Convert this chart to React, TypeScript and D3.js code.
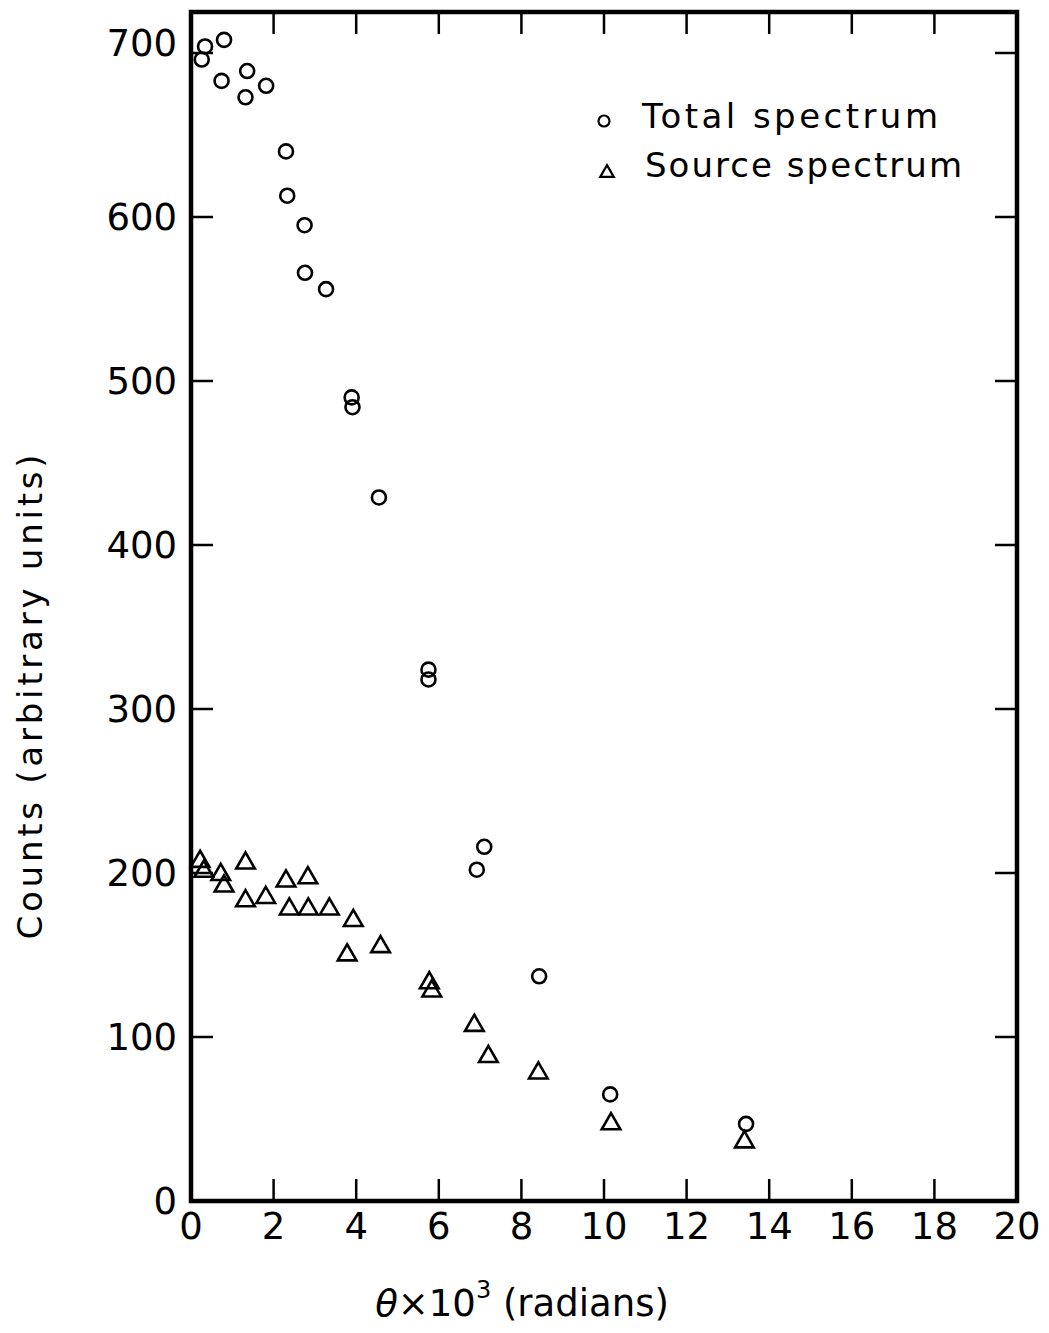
import React from "react";
import * as d3 from "d3";

// Total spectrum (circles): [theta x 10^3, counts]
const totalX = [0.8, 0.34, 0.26, 0.74, 1.36, 1.32, 1.82, 2.3, 2.33, 2.75, 2.76, 3.27, 3.89, 3.91, 4.55, 5.75, 5.75, 7.1, 6.92, 8.43, 10.15, 13.44];
const totalY = [708, 704, 696, 683, 689, 673, 680, 640, 613, 595, 566, 556, 490, 484, 429, 324, 318, 216, 202, 137, 65, 47];

// Source spectrum (triangles)
const sourceX = [0.22, 0.31, 0.72, 0.8, 1.32, 1.32, 1.81, 2.3, 2.83, 2.38, 2.84, 3.35, 3.93, 3.78, 4.59, 5.77, 5.83, 6.86, 7.2, 8.41, 10.17, 13.4];
const sourceY = [207, 201, 199, 192, 206, 183, 185, 195, 197, 178, 178, 178, 171, 150, 155, 133, 128, 107, 88, 78, 47, 36];

const xTicks = [0, 2, 4, 6, 8, 10, 12, 14, 16, 18, 20];
const yTicks = [0, 100, 200, 300, 400, 500, 600, 700];
const legendLabels = ["Total spectrum", "Source spectrum"];

const W = 1049;
const H = 1333;
const FONT = "'DejaVu Sans', sans-serif";

export default function App() {
  const x = d3.scaleLinear().domain([0, 20]).range([191, 1017]);
  const y = d3.scaleLinear().domain([0, 725]).range([1201, 12]);
  const tri = d3.symbol().type(d3.symbolTriangle).size(150)();
  const triSmall = d3.symbol().type(d3.symbolTriangle).size(80)();
  const tickLen = 22;
  const [x0, x1] = x.range();
  const [yb, yt] = y.range();

  return (
    <svg
      width={W}
      height={H}
      style={{ position: "absolute", left: 0, top: 0, background: "#fff" }}
      fontFamily={FONT}
    >
      <rect x={0} y={0} width={W} height={H} fill="#fff" />
      {/* frame */}
      <rect x={x0} y={yt} width={x1 - x0} height={yb - yt} fill="none" stroke="#000" strokeWidth={4.5} />
      {/* ticks */}
      {xTicks.slice(1, -1).map((t) => (
        <g key={"xt" + t}>
          <line x1={x(t)} x2={x(t)} y1={yb} y2={yb - tickLen} stroke="#000" strokeWidth={2.5} />
          <line x1={x(t)} x2={x(t)} y1={yt} y2={yt + tickLen} stroke="#000" strokeWidth={2.5} />
        </g>
      ))}
      {yTicks.slice(1).map((t) => (
        <g key={"yt" + t}>
          <line x1={x0} x2={x0 + tickLen} y1={y(t)} y2={y(t)} stroke="#000" strokeWidth={2.5} />
          <line x1={x1} x2={x1 - tickLen} y1={y(t)} y2={y(t)} stroke="#000" strokeWidth={2.5} />
        </g>
      ))}
      {/* tick labels */}
      {xTicks.map((t) => (
        <text key={"xl" + t} x={x(t)} y={1239} textAnchor="middle" fontSize={37}>
          {t}
        </text>
      ))}
      {yTicks.map((t) => (
        <text key={"yl" + t} x={177} y={y(t) + 13 - (t === 700 ? 10 : 0)} textAnchor="end" fontSize={37}>
          {t}
        </text>
      ))}
      {/* axis titles */}
      <text x={522} y={1316} textAnchor="middle" fontSize={37}>
        <tspan fontStyle="italic">θ</tspan>
        <tspan>×10</tspan>
        <tspan fontSize={24} dy={-18}>3</tspan>
        <tspan dy={18}> (radians)</tspan>
      </text>
      <text
        transform={`translate(42, 697) rotate(-90)`}
        textAnchor="middle"
        fontSize={34}
        textLength={485}
        lengthAdjust="spacing"
      >
        Counts (arbitrary units)
      </text>
      {/* data */}
      {totalX.map((v, i) => (
        <circle key={"c" + i} cx={x(v)} cy={y(totalY[i])} r={7} fill="none" stroke="#000" strokeWidth={2.6} />
      ))}
      {sourceX.map((v, i) => (
        <path
          key={"t" + i}
          d={tri}
          transform={`translate(${x(v)},${y(sourceY[i])})`}
          fill="none"
          stroke="#000"
          strokeWidth={2.6}
          strokeLinejoin="miter"
        />
      ))}
      {/* legend */}
      <circle cx={604} cy={121} r={5.5} fill="none" stroke="#000" strokeWidth={2.2} />
      <text x={642} y={128} fontSize={34} textLength={296} lengthAdjust="spacing">
        {legendLabels[0]}
      </text>
      <path d={triSmall} transform="translate(607,173)" fill="none" stroke="#000" strokeWidth={2.2} />
      <text x={645} y={177} fontSize={34} textLength={317} lengthAdjust="spacing">
        {legendLabels[1]}
      </text>
    </svg>
  );
}
